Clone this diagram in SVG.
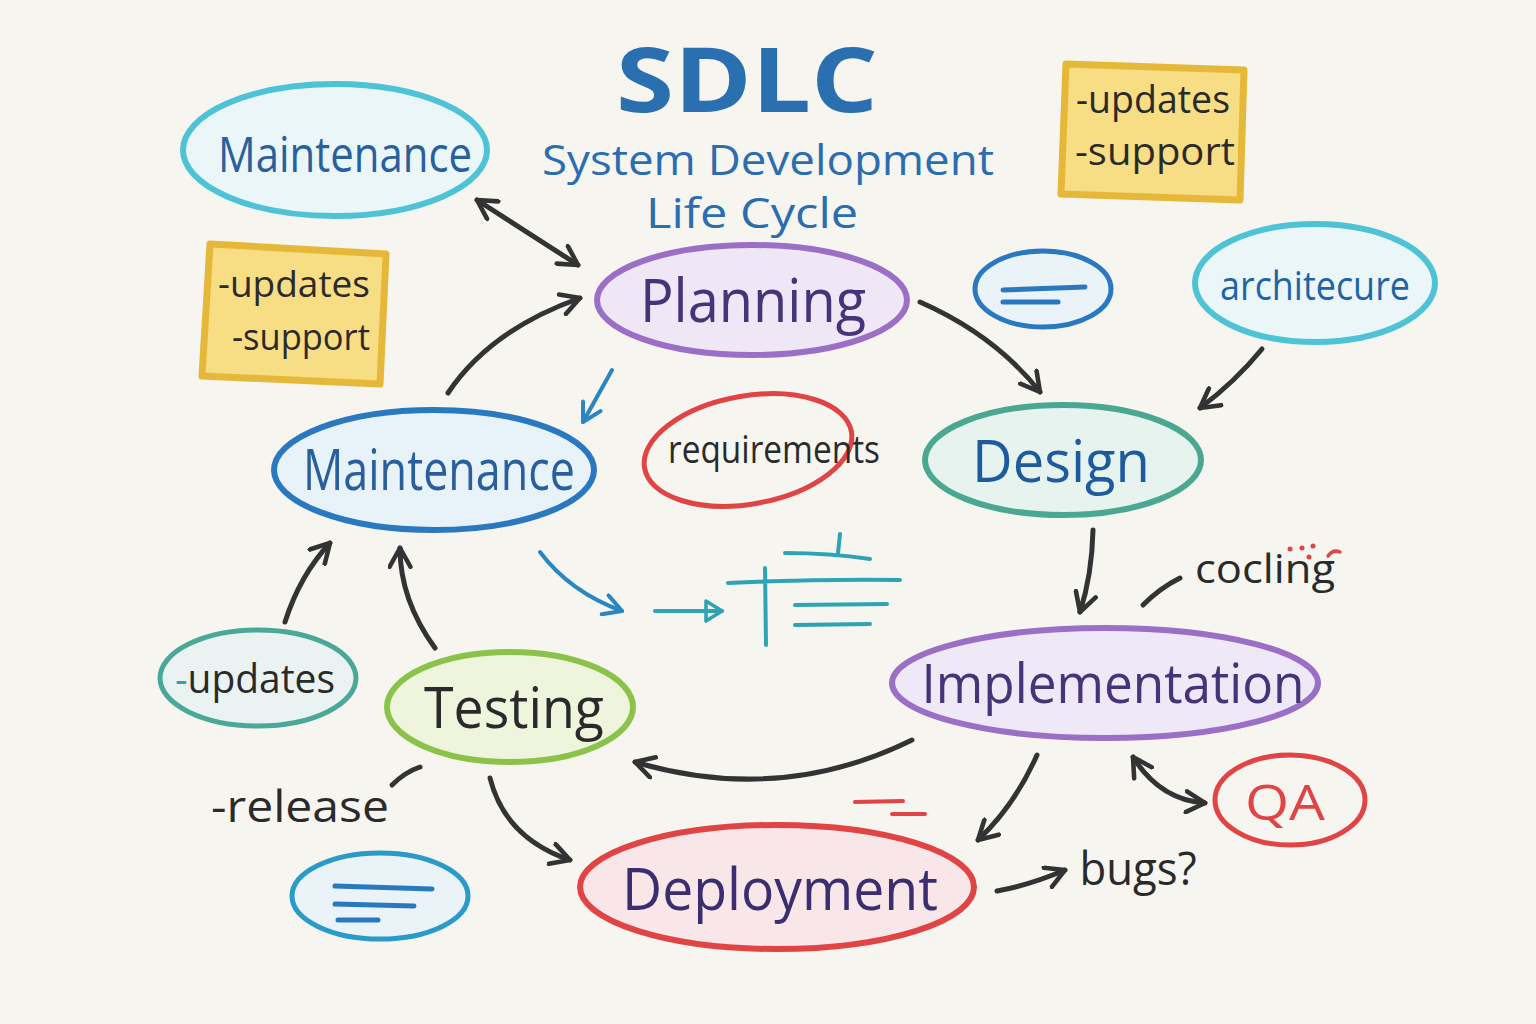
<svg xmlns="http://www.w3.org/2000/svg" width="1536" height="1024" viewBox="0 0 1536 1024">
<style>
.t{font-family:"Open Sans","Noto Sans","Liberation Sans",sans-serif;text-anchor:middle}
.dk{fill:#2a2a2a}
.c{fill:none;stroke:#333;stroke-width:5;stroke-linecap:round}
.b{fill:none;stroke:#2a86c0;stroke-width:4;stroke-linecap:round}
.tl{fill:none;stroke:#2ea3b4;stroke-width:4;stroke-linecap:round}
.note{fill:#f7dd84;stroke:#e6b83a;stroke-width:7;stroke-linejoin:round}
</style>
<defs>
<marker id="ah" viewBox="0 0 12 12" refX="10" refY="6" markerWidth="5" markerHeight="5" orient="auto-start-reverse" markerUnits="strokeWidth">
<path d="M1,1 L10,6 L1,11" fill="none" stroke="#333" stroke-width="2.2" stroke-linecap="round" stroke-linejoin="round"/>
</marker>
<marker id="ab" viewBox="0 0 12 12" refX="10" refY="6" markerWidth="6" markerHeight="6" orient="auto" markerUnits="strokeWidth">
<path d="M1,1 L10,6 L1,11" fill="none" stroke="#2a86c0" stroke-width="2" stroke-linecap="round" stroke-linejoin="round"/>
</marker>
<marker id="atri" viewBox="0 0 12 12" refX="10" refY="6" markerWidth="6" markerHeight="6" orient="auto" markerUnits="strokeWidth">
<path d="M2,1 L10,6 L2,11 Z" fill="none" stroke="#2ea3b4" stroke-width="1.8" stroke-linejoin="round"/>
</marker>
</defs>
<rect width="1536" height="1024" fill="#f7f5f0"/>

<g id="title">
<text class="t" x="747" y="112" font-size="90" font-weight="bold" fill="#2a6fb0" textLength="262" lengthAdjust="spacingAndGlyphs">SDLC</text>
<text class="t" x="768" y="175" font-size="42" fill="#2a6db0" textLength="452" lengthAdjust="spacingAndGlyphs">System Development</text>
<text class="t" x="752" y="228" font-size="42" fill="#2a6db0" textLength="212" lengthAdjust="spacingAndGlyphs">Life Cycle</text>
</g>

<g id="note-top-right">
<polygon class="note" points="1066,64 1244,70 1240,200 1061,194"/>
<text class="t dk" x="1153" y="113" font-size="38" textLength="154" lengthAdjust="spacingAndGlyphs">-updates</text>
<text class="t dk" x="1155" y="165" font-size="38" textLength="160" lengthAdjust="spacingAndGlyphs">-support</text>
</g>

<g id="note-left">
<polygon class="note" points="210,244 386,254 380,384 202,376"/>
<text class="t dk" x="294" y="297" font-size="36" textLength="152" lengthAdjust="spacingAndGlyphs">-updates</text>
<text class="t dk" x="301" y="350" font-size="36" textLength="138" lengthAdjust="spacingAndGlyphs">-support</text>
</g>

<g id="maintenance-top">
<ellipse cx="335" cy="150" rx="152" ry="66" fill="#ebf6f9" stroke="#4ec3d6" stroke-width="6"/>
<text class="t" x="345" y="172" font-size="50" fill="#2a5f9e" textLength="254" lengthAdjust="spacingAndGlyphs">Maintenance</text>
</g>

<g id="planning">
<ellipse cx="752" cy="300" rx="155" ry="55" fill="#efe7f5" stroke="#9b6fc6" stroke-width="6"/>
<text class="t" x="753" y="322" font-size="60" fill="#463478" textLength="226" lengthAdjust="spacingAndGlyphs">Planning</text>
</g>

<g id="blank-top">
<ellipse cx="1043" cy="289" rx="68" ry="38" fill="#eaf3f8" stroke="#2a78c0" stroke-width="5"/>
<path d="M1003,290 L1085,287 M1003,302 L1058,302" fill="none" stroke="#2a78c0" stroke-width="5" stroke-linecap="round"/>
</g>

<g id="architecure">
<ellipse cx="1315" cy="283" rx="120" ry="59" fill="#ebf6f9" stroke="#4ec3d6" stroke-width="6"/>
<text class="t" x="1315" y="300" font-size="40" fill="#1e63a8" textLength="190" lengthAdjust="spacingAndGlyphs">architecure</text>
</g>

<g id="maintenance-mid">
<ellipse cx="434" cy="470" rx="160" ry="60" fill="#e8f3f9" stroke="#2a78c0" stroke-width="6"/>
<text class="t" x="439" y="490" font-size="56" fill="#2a5f9e" textLength="272" lengthAdjust="spacingAndGlyphs">Maintenance</text>
</g>

<g id="requirements">
<ellipse cx="748" cy="450" rx="105" ry="54" fill="none" stroke="#e04444" stroke-width="5" transform="rotate(-10 748 450)"/>
<text class="t dk" x="774" y="463" font-size="38" textLength="212" lengthAdjust="spacingAndGlyphs">requirements</text>
</g>

<g id="design">
<ellipse cx="1063" cy="460" rx="138" ry="55" fill="#e7f3ef" stroke="#4aa890" stroke-width="6"/>
<text class="t" x="1061" y="482" font-size="58" fill="#1e5a9e" textLength="178" lengthAdjust="spacingAndGlyphs">Design</text>
</g>

<g id="coding">
<path d="M1143,605 Q1160,588 1180,578" class="c"/>
<text class="t dk" x="1265" y="583" font-size="40" textLength="140" lengthAdjust="spacingAndGlyphs">cocling</text>
<g fill="#e04444"><circle cx="1290" cy="549" r="2.5"/><circle cx="1302" cy="548" r="2.5"/><circle cx="1313" cy="546" r="2.5"/><circle cx="1309" cy="557" r="2.5"/></g>
<path d="M1328,556 Q1333,549 1340,552" fill="none" stroke="#e04444" stroke-width="3.5" stroke-linecap="round"/>
</g>

<g id="implementation">
<ellipse cx="1105" cy="683" rx="213" ry="55" fill="#efe8f6" stroke="#9b6fc6" stroke-width="6"/>
<text class="t" x="1113" y="703" font-size="54" fill="#463478" textLength="383" lengthAdjust="spacingAndGlyphs">Implementation</text>
</g>

<g id="qa">
<ellipse cx="1290" cy="800" rx="75" ry="45" fill="none" stroke="#e04444" stroke-width="5"/>
<text class="t" x="1285" y="820" font-size="50" fill="#e04444" textLength="80" lengthAdjust="spacingAndGlyphs">QA</text>
</g>

<g id="updates-node">
<ellipse cx="258" cy="678" rx="98" ry="48" fill="#eaf3f2" stroke="#4aa898" stroke-width="5"/>
<text class="t" x="255" y="693" font-size="40" textLength="160" lengthAdjust="spacingAndGlyphs"><tspan fill="#2ea3b4">-</tspan><tspan class="dk">updates</tspan></text>
</g>

<g id="testing">
<ellipse cx="510" cy="707" rx="123" ry="55" fill="#eef5dc" stroke="#8bc34a" stroke-width="6"/>
<text class="t dk" x="514" y="728" font-size="56" textLength="180" lengthAdjust="spacingAndGlyphs">Testing</text>
</g>

<g id="release">
<text class="t dk" x="300" y="822" font-size="44" textLength="178" lengthAdjust="spacingAndGlyphs">-release</text>
<path d="M392,785 Q405,772 420,767" class="c"/>
</g>

<g id="blank-bottom">
<ellipse cx="380" cy="896" rx="88" ry="43" fill="#eaf4f8" stroke="#2a9ac8" stroke-width="5"/>
<path d="M335,886 L432,889 M335,904 L414,906 M338,920 L378,920" fill="none" stroke="#2a78c0" stroke-width="5" stroke-linecap="round"/>
</g>

<g id="deployment">
<ellipse cx="777" cy="887" rx="197" ry="62" fill="#f9e6e8" stroke="#e04444" stroke-width="6"/>
<path d="M855,802 L903,801 M892,814 L925,814" fill="none" stroke="#e04444" stroke-width="4" stroke-linecap="round"/>
<text class="t" x="780" y="910" font-size="58" fill="#3a2e70" textLength="316" lengthAdjust="spacingAndGlyphs">Deployment</text>
</g>

<g id="bugs">
<text class="t dk" x="1138" y="885" font-size="46" textLength="117" lengthAdjust="spacingAndGlyphs">bugs?</text>
</g>

<g id="decor">
<path d="M655,611 L722,611" class="tl" marker-end="url(#atri)"/>
<path d="M728,583 Q810,579 900,580 M765,568 L766,645 M785,553 Q830,553 870,559 M840,534 L838,553 M795,605 L887,604 M795,625 L870,624" class="tl"/>
</g>

<g id="connectors">
<path d="M477,200 L578,265" class="c" marker-start="url(#ah)" marker-end="url(#ah)"/>
<path d="M448,393 Q490,330 580,298" class="c" marker-end="url(#ah)"/>
<path d="M920,302 Q995,335 1040,392" class="c" marker-end="url(#ah)"/>
<path d="M1262,349 Q1235,382 1200,408" class="c" marker-end="url(#ah)"/>
<path d="M1093,530 Q1092,575 1080,612" class="c" marker-end="url(#ah)"/>
<path d="M912,740 Q780,805 635,762" class="c" marker-end="url(#ah)"/>
<path d="M1037,755 Q1015,805 978,840" class="c" marker-end="url(#ah)"/>
<path d="M1133,757 Q1160,800 1205,803" class="c" marker-start="url(#ah)" marker-end="url(#ah)"/>
<path d="M490,778 Q505,838 570,860" class="c" marker-end="url(#ah)"/>
<path d="M435,648 Q400,600 400,548" class="c" marker-end="url(#ah)"/>
<path d="M285,622 Q300,575 330,543" class="c" marker-end="url(#ah)"/>
<path d="M997,891 Q1030,885 1065,870" class="c" marker-end="url(#ah)"/>
<path d="M612,370 L583,422" class="b" marker-end="url(#ab)"/>
<path d="M540,552 Q570,592 622,611" class="b" marker-end="url(#ab)"/>
</g>
</svg>
